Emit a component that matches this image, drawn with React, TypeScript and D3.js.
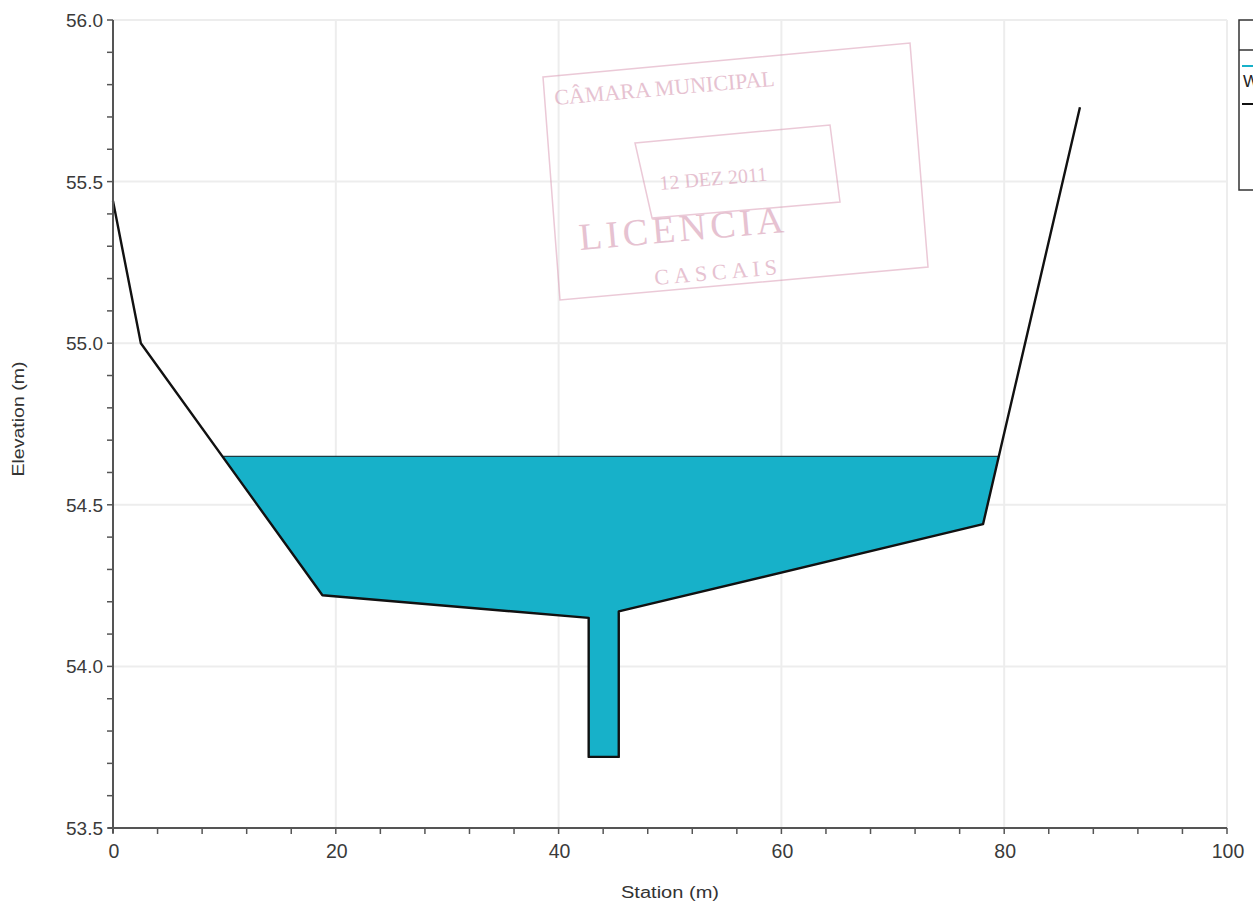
import React from "react";
import * as d3 from "d3";

const groundStation = [0, 2.5, 18.8, 42.7, 42.7, 45.4, 45.4, 78.1, 86.8];
const groundElev = [55.44, 55.0, 54.22, 54.15, 53.72, 53.72, 54.17, 54.44, 55.73];
const waterSurface = 54.65;
const xTicks = [0, 20, 40, 60, 80, 100];
const yTicks = [53.5, 54.0, 54.5, 55.0, 55.5, 56.0];
const legendItems = ["WS PF 1", "Ground"];

const W = 1253, H = 911;
const x = d3.scaleLinear().domain([0, 100]).range([113, 1227]);
const y = d3.scaleLinear().domain([53.5, 56.0]).range([828, 20]);

function waterPolygon(): [number, number][] {
  const pts = groundStation.map((s, i) => [s, groundElev[i]] as [number, number]);
  const out: [number, number][] = [];
  for (let i = 0; i < pts.length - 1; i++) {
    const [s0, e0] = pts[i], [s1, e1] = pts[i + 1];
    const b0 = e0 < waterSurface, b1 = e1 < waterSurface;
    if (b0) out.push([s0, e0]);
    if (b0 !== b1) {
      const t = (waterSurface - e0) / (e1 - e0);
      out.push([s0 + t * (s1 - s0), waterSurface]);
    }
  }
  const last = pts[pts.length - 1];
  if (last[1] < waterSurface) out.push(last);
  return out;
}

export default function App() {
  const water = waterPolygon();
  const line = d3.line<[number, number]>().x(d => x(d[0])).y(d => y(d[1]));
  const groundPts = groundStation.map((s, i) => [s, groundElev[i]] as [number, number]);
  const wl = water[0][0], wr = water[water.length - 1][0];
  const xMinor = d3.range(0, 100.01, 4);
  const yMinor = d3.range(0, 26).map(i => 53.5 + i * 0.1);
  const font = "'Liberation Sans', Arial, sans-serif";
  return (
    <svg width={W} height={H} style={{ position: "absolute", left: 0, top: 0, background: "#fff" }} fontFamily={font}>
      <rect x={0} y={0} width={W} height={H} fill="#fff" />
      {/* grid */}
      {xTicks.map(t => (
        <line key={"gx" + t} x1={x(t)} x2={x(t)} y1={y(56)} y2={y(53.5)} stroke="#ededed" strokeWidth={2} />
      ))}
      {yTicks.map(t => (
        <line key={"gy" + t} x1={x(0)} x2={x(100)} y1={y(t)} y2={y(t)} stroke="#ededed" strokeWidth={2} />
      ))}
      {/* stamp */}
      <g opacity={0.5} stroke="#d994b0" fill="none" strokeWidth={1.5}>
        <polygon points="543,77 910,43 928,267 560,300" />
        <polygon points="635,143 830,125 840,202 652,218" />
        <g fill="#cf86a4" stroke="none" fontFamily="'Liberation Serif', serif">
          <text transform="translate(555,105) rotate(-5)" fontSize={22}>CÂMARA MUNICIPAL</text>
          <text transform="translate(660,190) rotate(-5)" fontSize={20}>12 DEZ 2011</text>
          <text transform="translate(580,250) rotate(-5)" fontSize={38} letterSpacing={4}>LICENCIA</text>
          <text transform="translate(655,285) rotate(-5)" fontSize={22} letterSpacing={5}>CASCAIS</text>
        </g>
      </g>
      {/* water */}
      <path d={line(water)! + "Z"} fill="#17b1c9" stroke="none" />
      <line x1={x(wl)} x2={x(wr)} y1={y(waterSurface)} y2={y(waterSurface)} stroke="#1b3c44" strokeWidth={1.2} />
      {/* ground */}
      <path d={line(groundPts)!} fill="none" stroke="#111" strokeWidth={2.4} strokeLinejoin="round" />
      {/* axes */}
      <line x1={x(0)} x2={x(0)} y1={y(56)} y2={y(53.5) + 5} stroke="#555" strokeWidth={2} />
      <line x1={x(0) - 5} x2={x(100)} y1={y(53.5)} y2={y(53.5)} stroke="#555" strokeWidth={2} />
      {yMinor.map((t, i) => (
        <line key={"ym" + i} x1={x(0) - 6} x2={x(0)} y1={y(t)} y2={y(t)} stroke="#555" strokeWidth={1.5} />
      ))}
      {xMinor.map((t, i) => (
        <line key={"xm" + i} x1={x(t)} x2={x(t)} y1={y(53.5)} y2={y(53.5) + 6} stroke="#555" strokeWidth={1.5} />
      ))}
      {yTicks.map(t => (
        <text key={"yl" + t} x={x(0) - 10} y={y(t) + 7} textAnchor="end" fontSize={19} fill="#3a3a3a">{t.toFixed(1)}</text>
      ))}
      {xTicks.map(t => (
        <text key={"xl" + t} x={x(t) + 1} y={y(53.5) + 30} textAnchor="middle" fontSize={19.5} fill="#3a3a3a">{t}</text>
      ))}
      <text x={670} y={898} textAnchor="middle" fontSize={16} fill="#333" textLength={98} lengthAdjust="spacingAndGlyphs">Station (m)</text>
      <text transform="translate(24,419) rotate(-90)" textAnchor="middle" fontSize={16} fill="#333" textLength={115} lengthAdjust="spacingAndGlyphs">Elevation (m)</text>
      {/* legend (partly outside the page, as in the reference) */}
      <rect x={1239} y={20} width={40} height={170} fill="#fff" stroke="#333" strokeWidth={1.5} />
      <line x1={1239} x2={1280} y1={50} y2={50} stroke="#333" strokeWidth={1.5} />
      <line x1={1242} x2={1262} y1={66} y2={66} stroke="#17b1c9" strokeWidth={2} />
      <text x={1243} y={87} fontSize={17} fill="#222">{legendItems[0]}</text>
      <line x1={1242} x2={1262} y1={104} y2={104} stroke="#111" strokeWidth={2} />
      <text x={1268} y={110} fontSize={17} fill="#222">{legendItems[1]}</text>
    </svg>
  );
}
